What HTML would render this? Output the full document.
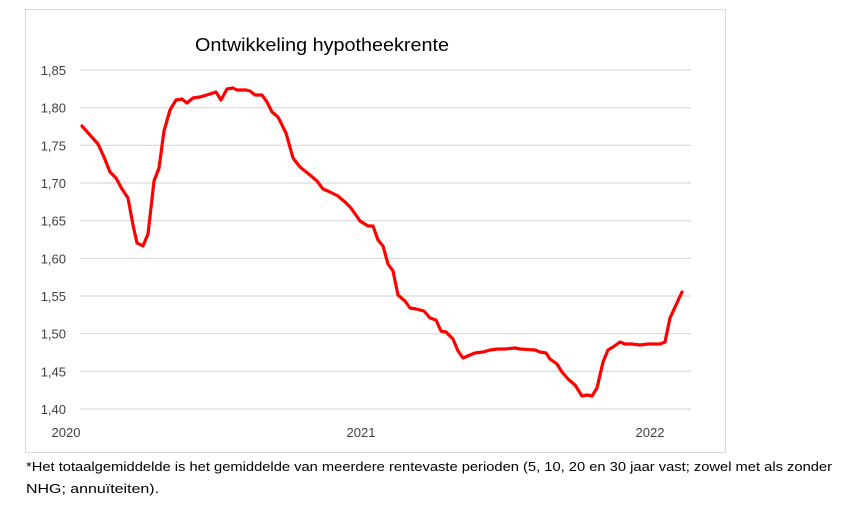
<!DOCTYPE html>
<html><head><meta charset="utf-8"><style>
html,body{margin:0;padding:0;background:#fff;}
svg{display:block;font-family:"Liberation Sans",sans-serif;}
</style></head><body>
<svg width="850" height="513" viewBox="0 0 850 513">
<rect x="25.5" y="9.5" width="700" height="443" fill="#fff" stroke="#d9d9d9"/>
<text x="195" y="51" font-size="18" fill="#000" textLength="254" lengthAdjust="spacingAndGlyphs">Ontwikkeling hypotheekrente</text>
<g stroke="#d9d9d9" stroke-width="1.2">
<line x1="80" x2="691" y1="70" y2="70"/>
<line x1="80" x2="691" y1="107.7" y2="107.7"/>
<line x1="80" x2="691" y1="145.3" y2="145.3"/>
<line x1="80" x2="691" y1="183" y2="183"/>
<line x1="80" x2="691" y1="220.7" y2="220.7"/>
<line x1="80" x2="691" y1="258.3" y2="258.3"/>
<line x1="80" x2="691" y1="296" y2="296"/>
<line x1="80" x2="691" y1="333.7" y2="333.7"/>
<line x1="80" x2="691" y1="371.3" y2="371.3"/>
<line x1="80" x2="691" y1="409" y2="409"/>
</g>
<g font-size="13" fill="#404040" text-anchor="end">
<text x="66" y="75">1,85</text>
<text x="66" y="112.7">1,80</text>
<text x="66" y="150.3">1,75</text>
<text x="66" y="188">1,70</text>
<text x="66" y="225.7">1,65</text>
<text x="66" y="263.3">1,60</text>
<text x="66" y="301">1,55</text>
<text x="66" y="338.7">1,50</text>
<text x="66" y="376.3">1,45</text>
<text x="66" y="414">1,40</text>
</g>
<g font-size="13" fill="#404040" text-anchor="middle">
<text x="66" y="437">2020</text>
<text x="361" y="437">2021</text>
<text x="650" y="437">2022</text>
</g>
<polyline fill="none" stroke="#ff0000" stroke-width="3.2" stroke-linejoin="round" stroke-linecap="round" points="82,126 90,135 98,144 104,157 110,172 116,178 122,189 128,198 133,225 137,243 143,246 148,234 154,181 159,168 164,131 170,110 176,100 182,99 187,103 193,98 200,97 210,94 216,92 221,100 227,89 233,88 237,90 246,90 250,91 255,95 262,95 267,102 272,112 278,117 286,133 293,158 300,167 310,175 317,181 323,189 330,192 338,196 345,202 351,208 360,221 368,226 373,226 378,240 383,246 388,264 393,271 398,295 405,301 410,308 416,309 424,311 430,318 436,320 441,331 446,332 453,339 458,351 463,358 470,355 475,353 483,352 490,350 498,349 505,349 515,348 520,349 535,350 540,352 546,353 550,359 557,364 562,372 568,379 575,385 582,396 587,395 592,396 597,388 603,362 608,350 613,347 620,342 625,344 632,344 640,345 648,344 660,344 665,342 670,318 676,305 682,292"/>
<g font-size="13" fill="#000">
<text x="26" y="471" textLength="806" lengthAdjust="spacingAndGlyphs">*Het totaalgemiddelde is het gemiddelde van meerdere rentevaste perioden (5, 10, 20 en 30 jaar vast; zowel met als zonder</text>
<text x="26" y="493" textLength="133" lengthAdjust="spacingAndGlyphs">NHG; annuïteiten).</text>
</g>
</svg>
</body></html>
